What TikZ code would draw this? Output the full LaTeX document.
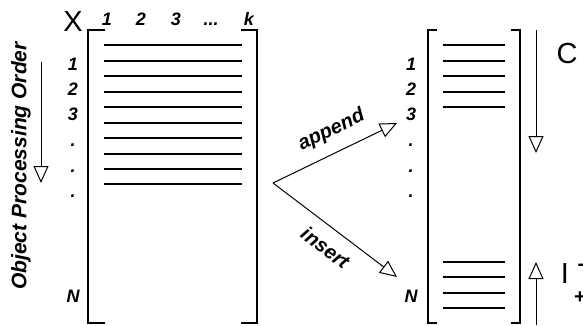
\documentclass[tikz,border=0pt]{standalone}
\usepackage{fontspec}
\setmainfont{Liberation Sans}
\usetikzlibrary{arrows.meta,positioning}
\newcommand{\colskip}{...}

\begin{document}
\begin{tikzpicture}[
  x=1pt, y=-1pt,
  idx/.style={font=\fontsize{18}{18}\selectfont\bfseries\itshape, inner sep=0pt, anchor=base},
  big/.style={font=\fontsize{29}{29}\selectfont, inner sep=0pt, anchor=base},
  note/.style={font=\fontsize{20}{20}\selectfont\bfseries\itshape, inner sep=0pt},
  bracket/.style={line width=1.5pt},
  row/.style={line width=1.4pt},
  flow/.style={-{Triangle[open, length=17pt, width=15pt]}, line width=1pt}
]
\useasboundingbox (0,0) rectangle (583,325);

% input matrix X
\draw[bracket] (105,30) -| (88,323) -- (105,323);
\draw[bracket] (241,30) -| (257,323) -- (241,323);
\foreach \y in {45,61,76,92,107,123,138,154,169,184}
  \draw[row] (104,\y) -- (242,\y);
\node[big] (xlabel) at (73,31) {X};
\foreach \x/\t [count=\i] in {107/1,141/2,176/3,211/\colskip,249/k}
  \node[idx] (colx\i) at (\x,25) {\t};
\foreach \y/\t [count=\i] in {70/1,95/2,120/3,146/.,172/.,197/.,302/N}
  \node[idx] (rowx\i) at (73,\y) {\t};

% processing order
\node[note, font=\fontsize{21}{21}\selectfont\bfseries\itshape, rotate=90] (order) at (21,166) {Object Processing Order};
\coordinate (ordtop) at (41,62);
\coordinate (ordend) at (41,183);
\draw[flow] (ordtop) -- (ordend);

% result matrix C
\draw[bracket] (437,30) -| (428,323) -- (437,323);
\draw[bracket] (511,30) -| (520,323) -- (511,323);
\foreach \y in {45,61,76,92,107,262,277,293,308}
  \draw[row] (443,\y) -- (505,\y);
\foreach \y/\t [count=\i] in {70/1,95/2,120/3,146/.,172/.,197/.,302/N}
  \node[idx] (rowc\i) at (411,\y) {\t};

% append / insert
\coordinate (split) at (273,183);
\coordinate (appendtip) at (397,123);
\coordinate (inserttip) at (397,277);
\draw[flow] (split) -- node[note, sloped, above=12pt, pos=0.55] {append} (appendtip);
\draw[flow] (split) -- node[note, sloped, below=12pt, pos=0.52] {insert} (inserttip);

% fill directions
\coordinate (ctop) at (536,30);
\coordinate (cend) at (536,153);
\draw[flow] (ctop) -- (cend);
\node[big] (clabel) at (567,63) {C};
\coordinate (ibot) at (536,325);
\coordinate (iend) at (536,262);
\draw[flow] (ibot) -- (iend);
\node[big] (ilabel) at (565,283) {I};
\node[font=\fontsize{20}{20}\selectfont\bfseries, inner sep=0pt] (isub) at (580,298) {+};
\node[font=\fontsize{20}{20}\selectfont\bfseries, inner sep=0pt] (isup) at (581,267) {-};
\end{tikzpicture}
\end{document}
